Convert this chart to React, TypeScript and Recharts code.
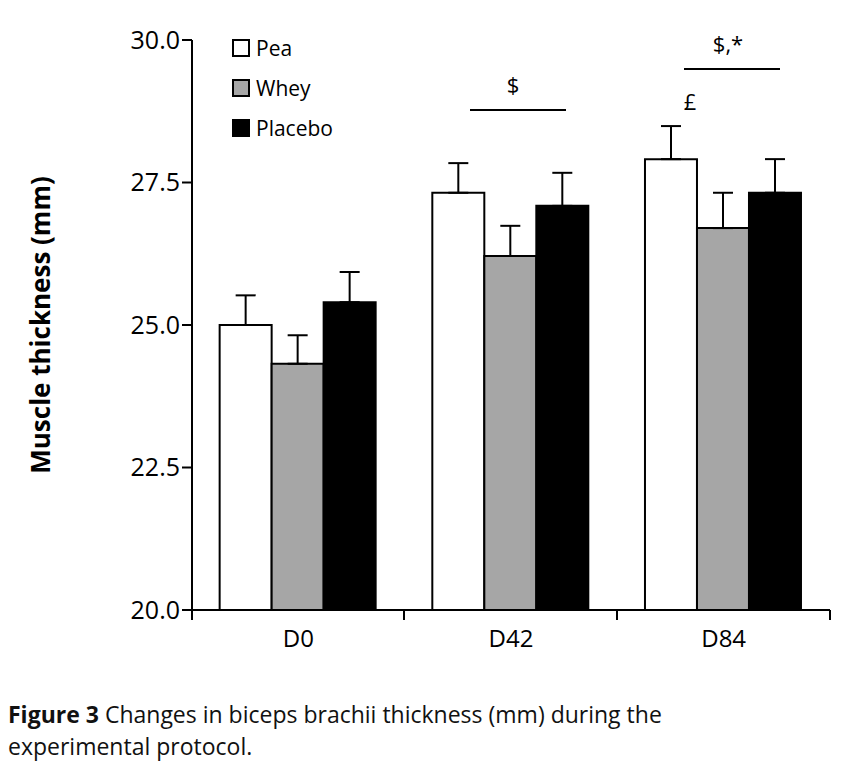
import { BarChart, Bar, XAxis, YAxis, ErrorBar } from "recharts"

const categories = ["D0", "D42", "D84"]
const pea = [25.0, 27.32, 27.91]
const peaErr = [0.52, 0.52, 0.58]
const whey = [24.32, 26.21, 26.7]
const wheyErr = [0.5, 0.53, 0.62]
const placebo = [25.4, 27.09, 27.32]
const placeboErr = [0.53, 0.58, 0.59]
const yTicks = [20, 22.5, 25, 27.5, 30]

const data = categories.map((name, i) => ({
  name,
  pea: pea[i], peaErr: [0, peaErr[i]],
  whey: whey[i], wheyErr: [0, wheyErr[i]],
  placebo: placebo[i], placeboErr: [0, placeboErr[i]],
}))

const FONT = "'Open Sans', 'Noto Sans', sans-serif"
const txt = { fontFamily: FONT, fontSize: 22, fill: "#000" }

const series = [
  { key: "pea", label: "Pea", fill: "#fff" },
  { key: "whey", label: "Whey", fill: "#a6a6a6" },
  { key: "placebo", label: "Placebo", fill: "#000" },
]

export default function App() {
  return (
    <div style={{ position: "absolute", left: 0, top: 0, width: 853, height: 768, background: "#fff", fontFamily: FONT }}>
      <BarChart width={853} height={680} data={data} margin={{ top: 40, right: 23, left: 0, bottom: 40 }}
        barCategoryGap="13%" barGap={0}>
        <XAxis dataKey="name" height={30} tick={{ ...txt, fontSize: 24 }} tickLine={false} axisLine={{ stroke: "#000", strokeWidth: 2 }} tickMargin={14} />
        <YAxis domain={[20, 30]} ticks={yTicks} tickFormatter={(v: number) => v.toFixed(1)} tick={{ ...txt, fontSize: 25 }}
          axisLine={{ stroke: "#000", strokeWidth: 2 }} tickLine={{ stroke: "#000", strokeWidth: 2 }} tickSize={10} width={192} allowDataOverflow />
        {series.map(s => (
          <Bar key={s.key} dataKey={s.key} fill={s.fill} stroke="#000" strokeWidth={2} isAnimationActive={false}>
            <ErrorBar dataKey={`${s.key}Err`} direction="y" width={10} stroke="#000" strokeWidth={2} />
          </Bar>
        ))}
      </BarChart>
      <svg width={853} height={768} style={{ position: "absolute", left: 0, top: 0, pointerEvents: "none" }}>
        <text transform="translate(50,325) rotate(-90)" textAnchor="middle" fontFamily={FONT} fontSize={26} fontWeight="bold">Muscle thickness (mm)</text>
        {[192, 404, 617, 830].map(x => <line key={x} x1={x} x2={x} y1={610} y2={620} stroke="#000" strokeWidth={2} />)}
        {series.map((s, i) => (
          <g key={s.key}>
            <rect x={233} y={40 + i * 40} width={16} height={16} fill={s.fill} stroke="#000" strokeWidth={2} />
            <text x={256} y={56 + i * 40} fontFamily={FONT} fontSize={21}>{s.label}</text>
          </g>
        ))}
        <line x1={470} x2={566} y1={110} y2={110} stroke="#000" strokeWidth={2} />
        <text x={513} y={93} textAnchor="middle" fontFamily={FONT} fontSize={22}>$</text>
        <line x1={684} x2={780} y1={69} y2={69} stroke="#000" strokeWidth={2} />
        <text x={728} y={52} textAnchor="middle" fontFamily={FONT} fontSize={22}>$,*</text>
        <text x={690} y={110} textAnchor="middle" fontFamily={FONT} fontSize={22}>£</text>
      </svg>
      <div style={{ position: "absolute", left: 8, top: 698, fontSize: 23, lineHeight: "32px", color: "#111" }}>
        <b>Figure 3</b> Changes in biceps brachii thickness (mm) during the<br />experimental protocol.
      </div>
    </div>
  )
}
